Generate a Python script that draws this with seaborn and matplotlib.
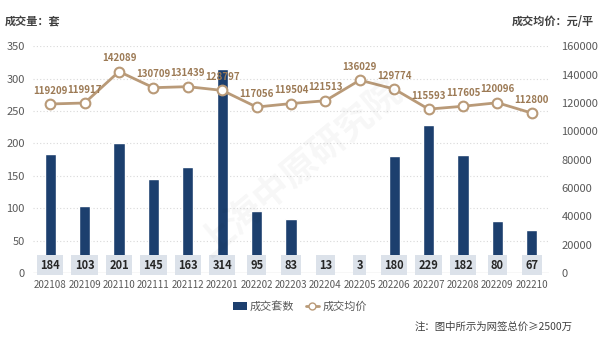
import numpy as np
import pandas as pd
import matplotlib
matplotlib.use("Agg")
import matplotlib.pyplot as plt
import seaborn as sns
from matplotlib.lines import Line2D
from matplotlib.patches import Patch

months = ["202108", "202109", "202110", "202111", "202112", "202201", "202202",
          "202203", "202204", "202205", "202206", "202207", "202208", "202209", "202210"]
volume = [184, 103, 201, 145, 163, 314, 95, 83, 13, 3, 180, 229, 182, 80, 67]
price = [119209, 119917, 142089, 130709, 131439, 128797, 117056, 119504, 121513,
         136029, 129774, 115593, 117605, 120096, 112800]

df = pd.DataFrame({"month": months, "volume": volume, "price": price})

sns.set_theme(style="white")
plt.rcParams["font.family"] = ["Noto Sans CJK SC", "DejaVu Sans"]

BAR = "#1c3f6e"
LINE = "#b99a78"
LBL = "#9c7a55"
TICK = "#595959"

fig = plt.figure(figsize=(6, 3.37), dpi=100)
ax = fig.add_axes([0.055, 0.19, 0.86, 0.673])

sns.barplot(data=df, x="month", y="volume", color=BAR, width=0.33, ax=ax,
            saturation=1, zorder=2)
ax.set_ylim(0, 350)
ax.set_yticks(range(0, 351, 50))
ax.set_xlim(-0.5, len(months) - 0.5)
for y in range(50, 351, 50):
    ax.axhline(y, color="#d9d9d9", lw=0.8, ls=(0, (1, 2)), zorder=0)
ax.axhline(0, color="#d9d9d9", lw=1, zorder=1)
for s in ax.spines.values():
    s.set_visible(False)
ax.set_xlabel("")
ax.set_ylabel("")
ax.tick_params(axis="y", length=0, labelsize=8, colors=TICK, pad=6)
ax.tick_params(axis="x", length=0, labelsize=7, colors=TICK, pad=5)

for i, v in enumerate(volume):
    ax.text(i, 12, str(v), ha="center", va="center", fontsize=8,
            fontweight="bold", color="#262626", zorder=5,
            bbox=dict(boxstyle="square,pad=0.3", fc="#dce2ea", ec="none"))

ax2 = ax.twinx()
sns.lineplot(data=df, x="month", y="price", ax=ax2, color=LINE, lw=2,
             marker="o", markersize=7, markerfacecolor="white",
             markeredgecolor=LINE, markeredgewidth=1.5, zorder=4)
ax2.set_ylim(0, 160000)
ax2.set_yticks(range(0, 160001, 20000))
for s in ax2.spines.values():
    s.set_visible(False)
ax2.set_ylabel("")
ax2.set_xlabel("")
ax2.tick_params(axis="both", length=0, labelsize=8, colors=TICK, pad=9)
ax2.grid(False)
for i, p in enumerate(price):
    ax2.annotate(str(p), (i, p), xytext=(0, 6), textcoords="offset points",
                 ha="center", va="bottom", fontsize=7, fontweight="bold",
                 color=LBL, zorder=6)

ax2.set_xlim(-0.5, len(months) - 0.5)

# watermark
fig.text(0.5, 0.5, "上海中原研究院", fontsize=26, color="#000000", alpha=0.035,
         rotation=40, ha="center", va="center", fontweight="bold")

fig.text(0.008, 0.935, "成交量：套", fontsize=8, fontweight="bold", color="#404040",
         ha="left", va="center")
fig.text(0.99, 0.935, "成交均价：元/平", fontsize=8, fontweight="bold", color="#404040",
         ha="right", va="center")

handles = [Patch(facecolor=BAR, edgecolor="none"),
           Line2D([0], [0], color=LINE, lw=2, marker="o", markersize=5,
                  markerfacecolor="white", markeredgecolor=LINE)]
fig.legend(handles, ["成交套数", "成交均价"], loc="center", bbox_to_anchor=(0.5, 0.09),
           ncol=2, frameon=False, fontsize=8, labelcolor=TICK, handlelength=1.2,
           handletextpad=0.3, columnspacing=1.0)

fig.text(0.955, 0.03, "注：图中所示为网签总价≥2500万", fontsize=7.5, color="#404040",
         ha="right", va="center")

fig.savefig("out.png", dpi=100)
